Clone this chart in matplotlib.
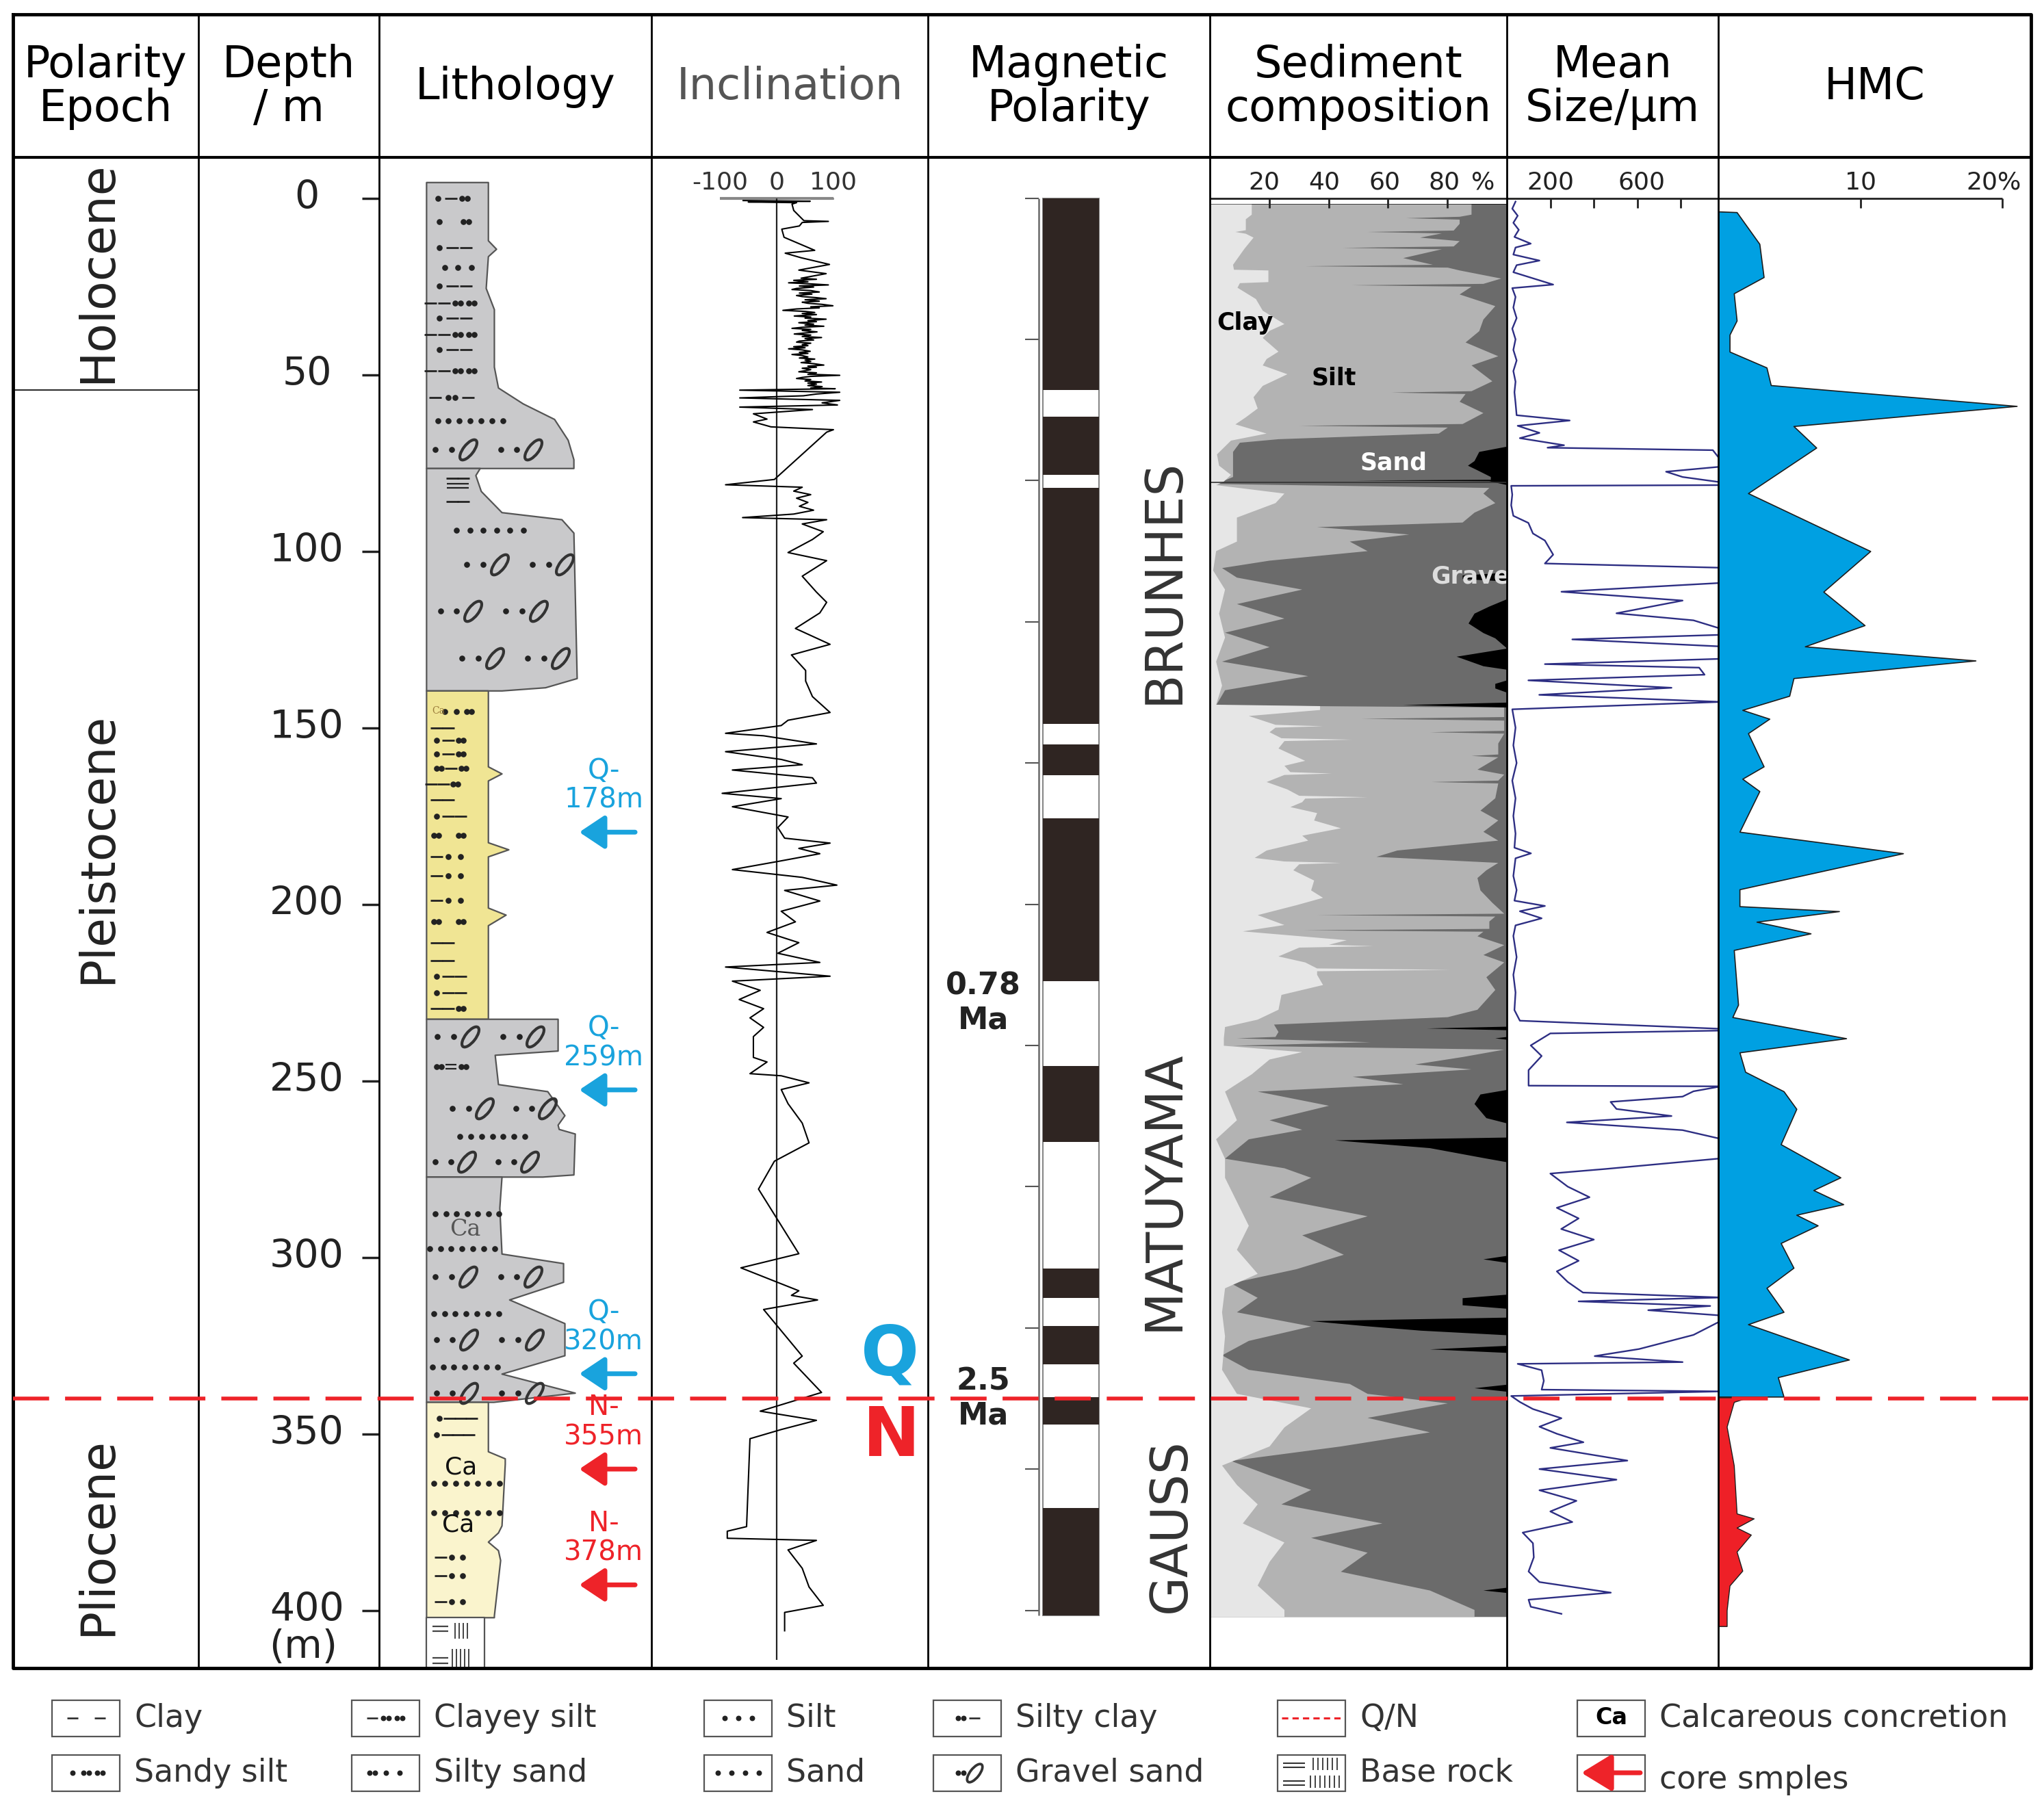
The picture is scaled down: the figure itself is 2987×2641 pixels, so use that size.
"""
Core log: lithology, inclination, polarity, sediment composition, mean size, HMC
"""
import numpy as np
import matplotlib
matplotlib.use("Agg")
import matplotlib.pyplot as plt
from matplotlib.path import Path
from matplotlib.transforms import Affine2D

W, H = 2987, 2641

# ---------------- data ----------------
EPOCHS = ["Holocene", "Pleistocene", "Pliocene"]
EPOCH_MID = [21, 184, 379]
HOLO_BASE = 54.4
QN_DEPTH = 340
DEPTH_TICKS = list(range(0, 401, 50))

# lithology beds: (depth, right edge in column units 0-100)
BED1 = [(-4.5, 40), (12, 40), (14.4, 43), (16.5, 40), (25.5, 39.2), (31.5, 42.2), (47.8, 42.2),
        (53.7, 43.7), (58.2, 52.8), (62.6, 64.3), (68.5, 69.3), (74, 71.4), (76.5, 71.4)]
BED2 = [(76.5, 37), (78.5, 35.4), (83, 37.4), (89, 45), (91, 67), (94.8, 71.4), (136, 72.6),
        (138.6, 61), (139.5, 45)]
BED3 = [(139.5, 40), (161, 40), (163, 45), (165, 40), (182.5, 40), (184.5, 47.5), (186.5, 40),
        (201, 40), (203, 46.5), (206, 40), (232.5, 40)]
BED4 = [(232.5, 65.6), (241.5, 65.6), (242.7, 42.5), (251, 43.7), (253, 61.8), (259.8, 68.1),
        (262.5, 65.6), (263.7, 66), (265, 71.9), (276.6, 71.4), (277.2, 60)]
BED5 = [(277.2, 45), (286, 44.2), (299, 45), (301.7, 67.6), (307, 67.6), (312, 47.8), (318.7, 68.1),
        (327.8, 68.1), (333, 45), (338.4, 71.9), (341, 42)]
BED6 = [(341, 40), (355, 40), (357, 46.2), (358.5, 46.2), (376, 45), (378, 43.7), (380.6, 40),
        (383, 43.7), (385.8, 44.5), (401.5, 42.2), (402, 42.2)]
BED7 = [(402, 38.7), (416.5, 38.7)]
BED_COLORS = ["#c9c9cb", "#c9c9cb", "#f0e594", "#c9c9cb", "#c9c9cb", "#faf4cd", "#ffffff"]
LITH_LEFT = 17.3

# pattern rows: (depth, x start, step, symbols)
LITH_ROWS = [
    (0.0, 21.5, 5, ".-:"), (6.6, 22, 5, ". :"), (14, 22, 5, ".--"), (19.6, 24, 5, "..."),
    (24.9, 22, 5, ".--"), (29.7, 18.8, 5, "--::"), (34.1, 22, 5, ".--"), (38.6, 18.8, 5, "--::"),
    (43, 22, 5, ".--"), (48.9, 18.8, 5, "--::"), (56.4, 20.6, 6, "-:-"), (63, 21.5, 4, "......."),
    (71.2, 20.6, 6, "..o ..o"),
    (79.3, 27, 4, "--"), (81.5, 27, 4, "=="), (86, 27, 4, "--"), (94, 28.5, 4.9, "......"),
    (103.8, 32.2, 6, "..o ..o"), (117, 22.5, 6, "..o ..o"), (130.4, 30.5, 6, "..o ..o"),
    (145.5, 24, 4.5, "..:"), (150, 21, 4.5, "--"), (153.5, 21, 4.5, ".-:"), (157.5, 21, 4.5, ".-:"),
    (161.5, 22, 4.5, ":-:"), (166, 19, 4.5, "--:"), (170.5, 21, 4.5, "--"), (175, 21, 4.5, ".--"),
    (180.5, 21, 4.5, ": :"), (186.5, 21, 4.5, "-.."), (192, 21, 4.5, "-.."), (199, 21, 4.5, "-.."),
    (205, 21, 4.5, ": :"), (211, 21, 4.5, "--"), (216, 21, 4.5, "--"), (220.5, 21, 4.5, ".--"),
    (225, 21, 4.5, ".--"), (229.5, 21, 4.5, "--:"),
    (237.5, 21.4, 6, "..o ..o"), (246, 22, 4.5, ":=:"), (257.8, 27, 5.8, "..o ..o"),
    (265.7, 29.6, 4, "......."), (272.9, 20.6, 5.8, "..o ..o"),
    (287.6, 20.6, 3.9, "......."), (297.5, 18.5, 4, "......."), (305.6, 20.6, 6, "..o ..o"),
    (315.9, 20, 4, "......."), (323.3, 21, 6, "..o ..o"), (331.2, 19.5, 4, "......."),
    (338.4, 21, 6, "..o ..o"),
    (345.6, 22, 4, ".---"), (350.2, 21, 4, ".---"), (364, 20.1, 4, "......."),
    (372.3, 20.1, 4, "......."), (385, 22.6, 4, "-.."), (390.3, 22.6, 4, "-.."), (397.5, 22.6, 4, "-.."),
]
CA_MARKS = [(145.3, 19.5, 10, "#9a7b3a", "serif"), (292.2, 26, 24, "#555555", "serif"),
            (359.4, 24, 26, "#111111", "sans"), (375.8, 23, 26, "#111111", "sans")]

SAMPLE_LABELS = ["Q-\n178m", "Q-\n259m", "Q-\n320m", "N-\n355m", "N-\n378m"]
SAMPLE_ARROW_DEPTH = [179.6, 252.6, 333, 360, 392.8]
SAMPLE_GROUP = ["Q", "Q", "Q", "N", "N"]

INCLINATION = [
    (0.7, -59), (0.9, 59), (1.1, -50), (1.3, 35), (1.7, 27), (3.5, 30), (5.9, 45), (6.4, 48),
    (6.6, 91), (6.9, 45), (7.9, 40), (8.8, 9), (11.1, 13), (14.8, 67), (15.6, 15), (16.9, 43),
    (18.8, 93), (20.4, 39), (21.4, 87),
    (22.7, 43), (23.0, 70), (23.3, 30), (23.7, 55), (24.0, 21), (24.3, 60), (24.6, 91), (24.9, 40),
    (25.2, 65), (25.6, 35), (25.9, 27), (26.2, 60), (26.6, 75), (26.9, 40), (27.2, 62), (27.6, 35),
    (27.9, 45), (28.2, 70), (28.5, 87), (28.8, 50), (29.2, 75), (29.5, 45), (29.8, 55), (30.1, 80),
    (30.5, 99), (30.8, 60), (31.1, 75), (31.4, 35), (31.8, 11), (32.1, 50), (32.4, 67), (32.7, 45),
    (33.0, 70), (33.4, 31), (33.7, 60), (34.0, 50), (34.3, 87), (34.7, 55), (35.0, 70), (35.3, 39),
    (35.7, 65), (36.0, 50), (36.3, 83), (36.6, 45), (36.9, 27), (37.2, 60), (37.5, 45), (37.9, 71),
    (38.2, 50), (38.5, 31), (38.8, 60), (39.2, 45), (39.5, 79), (39.8, 50), (40.2, 65), (40.5, 40),
    (40.8, 35), (41.1, 60), (41.5, 45), (41.8, 55), (42.1, 30), (42.4, 50), (42.7, 21), (43.0, 45),
    (43.4, 59), (43.7, 40), (44.0, 55), (44.3, 27), (44.6, 45), (45.0, 55), (45.3, 40), (45.6, 67),
    (45.9, 50), (46.3, 60), (46.6, 43), (46.9, 65), (47.3, 83), (47.6, 55), (47.9, 70), (48.2, 45),
    (48.6, 60), (48.9, 50), (49.2, 39), (49.5, 70), (49.9, 55), (50.2, 111), (50.5, 60), (50.8, 45),
    (51.1, 35), (51.4, 60), (51.8, 50), (52.1, 79), (52.4, 55), (52.7, 70), (53.1, 55), (53.4, 80),
    (53.8, 60), (54.0, 103), (54.4, -65), (55.0, 111), (55.5, 70), (56.0, 47), (56.6, -65),
    (57.3, 111), (58.0, 80), (58.6, 107), (59.2, -65), (59.9, 63), (61.1, -41), (62.6, -17),
    (63.4, -41), (64.8, -10), (65.6, 100), (66.3, 88), (79.7, -4), (81.2, -90), (81.9, 45),
    (83.0, 30), (84.0, 60), (85.0, 35), (86.2, 55), (87.3, 40), (88.4, 65), (89.5, 30), (90.5, -60),
    (91.1, 88), (92.3, 45), (94.5, 82), (96.7, 63), (100.4, 20), (102.7, 88), (107.1, 45),
    (111.6, 70), (114.5, 88), (117.5, 76), (121.9, 33), (126.4, 94), (129.4, 26), (133.8, 51),
    (136.8, 51), (141.2, 63), (145.7, 94), (147.9, 20),
    (149.4, 8), (151.6, -90), (152.3, -23), (154.6, 70), (156.8, -90), (159.0, 8), (160.5, 45),
    (162.0, -78), (164.2, 63), (165.7, 70), (168.6, -96), (170.1, 8), (172.4, -78), (175.3, 20),
    (178.3, 2), (181.3, 14), (182.7, 94), (184.2, 39), (185.7, 76), (187.9, 2), (190.2, -78),
    (192.4, 45), (194.6, 106), (196.1, 14), (199.1, 76), (202.0, 8), (205.0, 33), (208.0, -17),
    (210.9, 39), (213.9, 2), (216.5, 76), (217.8, -90), (220.4, 94), (221.8, -78), (224.4, -29),
    (227.0, -66), (229.6, -23), (232.2, -47), (234.9, -23), (237.5, -41), (243.4, -41),
    (244.7, -17), (248.0, -47), (248.6, 8), (250.6, 57), (252.5, 8), (256.5, 20), (262, 45),
    (267.6, 57), (272.8, -4), (280.7, -32), (299.0, 39), (303.0, -63), (309.5, 39), (310.8, 26),
    (312.1, 72), (314.8, -23), (328, 45), (330, 30), (338.3, 79), (343.6, -29), (346.2, 70),
    (348.8, 8), (351.4, -47), (376.3, -53), (377.6, -87), (379.6, -87), (380.2, 70), (382.9, 20),
    (388.1, 45), (393.4, 57), (398.6, 82), (400.6, 14), (405.8, 14),
]

# normal polarity (black) intervals, m
NORMAL_TOP = [0, 61.9, 82, 154.7, 175.7, 245.8, 303.2, 319.5, 339.6, 371]
NORMAL_BOT = [54.4, 78.4, 149, 163.5, 221.8, 267.3, 311.5, 330.3, 347.4, 401.5]
CHRONS = ["BRUNHES", "MATUYAMA", "GAUSS"]
CHRON_MID = [108.5, 281, 376]
AGE_LABELS = ["0.78\nMa", "2.5\nMa"]
AGE_DEPTH = [228, 340]

# sediment composition: cumulative % from the left edge
CLAY_EDGE = [
    (1.7, 14), (4.6, 14), (5.9, 12), (9.0, 12), (9.5, 8.5), (10.0, 12), (11.1, 14.6), (14.3, 11.5),
    (18.8, 7.7), (20.2, 8), (20.4, 19.6), (23.7, 19.6), (24.0, 10), (25.3, 9.2), (28.5, 15.4),
    (31.8, 17.7), (35.6, 25), (37.5, 20), (39.5, 17.7), (43.4, 23), (45.5, 19), (47.3, 17.7),
    (49.8, 26), (53.1, 17.7), (56.3, 14.6), (59.5, 16), (62, 12), (64, 8.5), (66.6, 19), (68.6, 7),
    (72.5, 2.3), (75.7, 3), (78.3, 7), (80.2, 4.6), (81.2, 2),
    (83.6, 25), (86.3, 22), (90.4, 9), (97.2, 9), (99.9, 2), (105.4, 1), (110.8, 5), (117.6, 3),
    (124.4, 5), (131.2, 2), (138.0, 4), (143.4, 2),
    (143.8, 37), (144.9, 37), (146.6, 13), (149.1, 22), (149.5, 38), (149.9, 22), (151.2, 20),
    (152.9, 24), (153.3, 48), (153.7, 25), (155.8, 23), (159.3, 32), (160.7, 25), (162.5, 27),
    (162.9, 41), (163.3, 25), (165.3, 19), (167.4, 26), (169.2, 30), (169.6, 53), (170.0, 32),
    (171, 31), (172.4, 27), (174.1, 36), (176.2, 35), (178.4, 44), (180.5, 31), (181.9, 33),
    (184.7, 19), (186.8, 15), (187.8, 25), (188.2, 44), (188.6, 30), (190.3, 28), (193.2, 35),
    (196, 34), (198.1, 38), (200.2, 29), (203, 16), (205.8, 25), (207.6, 11), (210.1, 46),
    (211.4, 40), (211.8, 55), (212.2, 30), (214.7, 23), (216.4, 32), (218.1, 36), (218.5, 81),
    (218.9, 36), (219.9, 36), (222.8, 38), (225.6, 24), (229.8, 23), (232.6, 16), (234.7, 5),
    (237.9, 4.6), (240, 4.6), (241.8, 31), (243.9, 20), (245.3, 18), (248.1, 14),
    (253.0, 5), (261.1, 9), (266.5, 2), (272.0, 5), (277.4, 5), (284.2, 9), (291.0, 13),
    (297.8, 9), (304.6, 16), (308.7, 5), (315.5, 4), (322.3, 5), (331.8, 4), (338.6, 9),
    (342.7, 34), (348.1, 25), (353.5, 20), (358.9, 4), (364.4, 9), (369.9, 16), (375.3, 11),
    (380.7, 25), (386.2, 20), (392.9, 16), (399.8, 25), (401.8, 25),
]
SILT_EDGE = [
    (1.7, 88), (4.6, 88), (5.2, 84), (5.6, 66), (6.0, 84), (7.2, 84), (9.1, 82), (9.5, 53),
    (9.9, 78), (11.1, 70.7), (12.1, 84), (13.6, 82), (14.0, 44.5), (14.4, 78), (16.9, 65),
    (18.8, 75), (19.2, 32), (19.6, 80), (20.4, 84), (22.7, 98), (24.2, 92), (24.6, 47.6), (25.0, 88),
    (27.2, 84), (30.5, 96), (34.3, 92), (37.6, 90.6), (40.8, 86), (44.7, 97), (47.3, 88), (51.8, 95),
    (54.6, 88), (55.0, 61), (55.4, 86), (57.6, 84), (60.8, 92), (63.9, 85), (64.4, 30), (64.9, 80),
    (66.6, 77), (68.2, 23), (69.2, 10), (71.8, 7.7), (75.7, 7.7), (78.9, 7.7), (80.9, 2),
    (82.0, 94), (83.6, 92), (86.3, 96), (89.0, 89), (91.8, 85), (93.1, 36), (95.2, 67), (97.2, 47),
    (99.9, 53), (102.6, 20), (104.7, 4), (107.4, 9), (110.8, 31), (114.9, 9), (119.0, 25),
    (123.0, 5), (127.1, 20), (131.2, 4), (135.3, 33), (139.3, 5), (143.6, 2),
    (144.2, 99), (146.9, 99), (147.4, 51), (147.9, 99), (150.8, 99), (151.2, 74), (151.6, 99),
    (154.4, 97), (157.5, 97), (157.9, 88), (158.3, 97), (161.8, 90), (163.2, 99), (164.9, 97),
    (165.3, 74.5), (165.7, 97), (169.9, 96), (173.4, 91), (176.2, 97), (179.4, 92), (181.9, 97),
    (184.7, 63), (186.5, 56), (188.2, 97), (190.3, 93), (192.5, 90), (196, 91), (199.5, 95),
    (202.6, 99), (203, 36), (203.4, 96), (204.8, 94), (206.9, 94), (207.3, 31.5), (207.7, 92),
    (209, 90), (211.5, 99), (214.3, 92), (216.4, 99), (220.6, 93), (224.2, 96), (229.8, 90),
    (231.9, 80), (234, 21.5), (236.1, 23), (237.5, 22), (237.9, 9), (238.3, 25), (239, 54),
    (240, 7.7), (241.1, 99), (243.2, 85), (245.3, 69), (246.7, 88), (248.8, 48), (250.9, 65),
    (253.0, 16), (257.0, 40), (261.1, 20), (263.8, 31), (266.5, 13), (272.0, 5), (274.7, 25),
    (277.4, 34), (282.9, 20), (288.3, 53), (293.7, 31), (299.2, 45), (303.3, 29), (307.3, 7),
    (311.4, 16), (315.5, 9), (319.5, 34), (323.6, 13), (327.7, 4), (331.8, 13), (335.8, 47),
    (338.6, 53), (341.3, 80), (345.4, 53), (349.5, 74), (353.5, 44), (357.6, 7), (361.7, 20),
    (365.8, 34), (369.9, 24), (375.3, 58), (379.4, 34), (383.6, 53), (389.0, 44), (394.3, 74),
    (399.8, 89), (401.8, 89),
]
SAND_EDGE = [
    (1.7, 100), (70.3, 100), (71.8, 90.6), (74.4, 89), (75.7, 86.8), (77, 90), (78.9, 94.5),
    (79.7, 94.5), (79.9, 49), (80.1, 94), (81.2, 100), (106, 100), (106.8, 85), (107.8, 85),
    (108.5, 100), (113.5, 100), (115.6, 94), (117.6, 89), (120.4, 87), (123.1, 92), (124.6, 96),
    (127.5, 100), (129.8, 83), (132.5, 92), (133.5, 100), (136.5, 100), (137.5, 96), (138.8, 96),
    (140, 100), (142.8, 100), (143.5, 65), (144.2, 100), (234.6, 100), (235.1, 73), (235.6, 100),
    (237.5, 100), (237.9, 96), (238.3, 100), (252.5, 100), (253.8, 91), (256.5, 89),
    (260.5, 93), (262, 100), (266, 100), (266.8, 42), (269, 74), (271.8, 92), (273, 100),
    (299.5, 100), (300.5, 92), (301.5, 100), (310.5, 100), (311.5, 85), (313.5, 85), (314.5, 100),
    (317, 100), (318, 34), (319.4, 52), (320.7, 71), (322, 100), (325, 100), (326, 74), (327, 100),
    (336, 100), (337, 89), (338, 100), (393.5, 100), (394.3, 92), (395, 100), (401.8, 100),
]
SED_COLORS = ["#e6e6e6", "#b3b3b3", "#6b6b6b", "#000000"]

MEAN_SIZE = [
    (1, 40), (3, 25), (5, 50), (7, 30), (9, 55), (11, 35), (12.9, 110), (14, 40), (16, 30),
    (17.7, 150), (19, 45), (21, 30), (24.5, 213), (25.5, 25), (28, 40), (31, 30), (34, 45), (37, 25),
    (40, 40), (43, 30), (46, 45), (49, 30), (52, 40), (55, 35), (58, 40), (61.5, 45), (63, 289),
    (64.5, 50), (66.5, 150), (68, 60), (70, 263), (70.7, 187), (71.4, 947), (74, 980), (76, 997),
    (77.5, 732), (79, 808), (80.5, 985), (81.3, 985), (81.5, 20), (84, 25), (87, 20), (90, 30),
    (92, 99), (95, 120), (97, 175), (101, 213), (103.5, 175), (104.7, 985), (107, 985), (109, 985),
    (111.5, 251), (114, 808), (117.6, 504), (119.6, 858), (122, 985), (123.7, 985), (125, 301),
    (127, 985), (130.5, 985), (132, 175), (133, 884), (135, 909), (136.6, 99), (138.7, 757),
    (140.7, 149), (142.7, 985), (144.8, 25), (150, 40), (155, 30), (160, 45), (165, 25), (170, 40),
    (175, 30), (180, 40), (184, 35), (185.6, 111), (187, 40), (192, 30), (196, 45), (199, 35),
    (200.5, 175), (202, 60), (204, 160), (206, 40), (209, 30), (215, 45), (220, 30), (225, 40),
    (230, 35), (233, 60), (235.3, 985), (235.8, 985), (236.6, 200), (240, 110), (243, 160),
    (247, 100), (251.4, 100), (251.6, 985), (253, 858), (254.5, 808), (256, 477), (258, 504),
    (260, 757), (261.8, 276), (264, 808), (266.5, 985), (272, 985), (275, 453), (276.3, 200),
    (280, 280), (283, 380), (286, 230), (289, 330), (292, 250), (295, 400), (298, 240), (301, 330),
    (304, 230), (307, 280), (310, 350), (311.4, 985), (312.5, 330), (313.8, 935), (315, 650),
    (316.5, 985), (318, 985), (322, 858), (326, 608), (328, 404), (329.7, 808), (330.2, 50),
    (332, 160), (335, 170), (337.5, 160), (338, 985), (339.3, 20), (341, 60), (343, 120),
    (345.6, 251), (348, 150), (350, 230), (352.4, 352), (354, 200), (357.6, 554), (360, 150),
    (363, 504), (366, 150), (369, 320), (372, 200), (375, 301), (378, 73), (381, 120), (385, 124),
    (389, 100), (392, 150), (395, 478), (397, 100), (399, 110), (401, 251),
]

HMC_Q = [
    (3.8, 0), (4, 1.3), (13, 2.9), (22.4, 3.2), (27, 1.1), (34.7, 1.3), (38.7, 0.8), (43.5, 0.8),
    (48, 3.4), (53, 3.7), (58.9, 21), (64.6, 5.3), (70.7, 6.9), (83.6, 2.1), (100, 10.7),
    (111.5, 7.4), (121, 10.3), (127, 6.1), (131, 18.1), (136, 5.3), (141, 5.0), (145, 1.7),
    (147.5, 3.6), (151.6, 2.1), (161, 3.2), (164.5, 1.7), (168, 2.9), (179.5, 1.5), (185.6, 13),
    (195.8, 1.5), (200.6, 1.5), (202, 8.5), (205, 2.7), (208.3, 6.5), (213, 1.1), (228.5, 1.4),
    (232, 1.0), (238, 9.0), (242, 1.5), (247.5, 1.9), (253, 4.6), (258, 5.5), (268, 4.4),
    (277.4, 8.6), (281, 6.7), (285, 8.8), (288, 5.5), (291, 7.0), (296, 4.4), (303, 5.3),
    (308.7, 3.4), (315.5, 4.6), (319, 2.1), (329, 9.2), (334, 4.2), (339.5, 4.6), (339.5, 0),
]
HMC_N = [
    (339.7, 0), (339.7, 2.1), (341, 1.1), (348, 0.6), (359, 1.1), (372.6, 1.3), (374, 2.5),
    (376.6, 1.3), (378.6, 2.3), (383.4, 1.3), (388.8, 1.7), (393, 0.8), (400, 0.6), (404.5, 0.6),
    (404.5, 0),
]

HEADERS = ["Polarity\nEpoch", "Depth\n/ m", "Lithology", "Inclination", "Magnetic\nPolarity",
           "Sediment\ncomposition", "Mean\nSize/\u03bcm", "HMC"]
LEGEND_ROW1 = ["Clay", "Clayey silt", "Silt", "Silty clay", "Q/N", "Calcareous concretion"]
LEGEND_ROW2 = ["Sandy silt", "Silty sand", "Sand", "Gravel sand", "Base rock", "core smples"]

# ---------------- layout (pixels of the output image) ----------------
COL_X = [19, 290, 554, 952, 1356, 1768, 2202, 2511, 2968]
TOP, HEAD_BOT, BOT = 21, 230, 2438
Y0, PX_PER_M = 289.5, 5.16
CYAN = "#19a3dd"
RED = "#ee2329"
INK = "#222222"

GRAVEL_MARK = Path.unit_circle().transformed(Affine2D().scale(0.42, 1.0).rotate_deg(-38))
DOUBLE_DASH = Path([(-1, 0.35), (1, 0.35), (-1, -0.35), (1, -0.35)],
                   [Path.MOVETO, Path.LINETO, Path.MOVETO, Path.LINETO])


def ypx(depth):
    return Y0 + PX_PER_M * depth


def depth_at(y):
    return (y - Y0) / PX_PER_M


def column_axes(fig, x0, x1, xlim):
    ax = fig.add_axes([x0 / W, 1 - BOT / H, (x1 - x0) / W, (BOT - HEAD_BOT) / H])
    ax.set_xlim(*xlim)
    ax.set_ylim(depth_at(BOT), depth_at(HEAD_BOT))
    ax.set_axis_off()
    return ax


def draw_symbols(ax, x0, y, step, pattern, color=INK, scale=1.0):
    dots, dashes, doubles, gravels = [], [], [], []
    for i, ch in enumerate(pattern):
        x = x0 + i * step
        if ch == ".":
            dots.append(x)
        elif ch == ":":
            dots += [x - step * 0.2, x + step * 0.2]
        elif ch == "-":
            dashes.append(x)
        elif ch == "=":
            doubles.append(x)
        elif ch == "o":
            gravels.append(x)
    ax.plot(dots, [y] * len(dots), ls="none", marker="o", ms=5.2 * scale, color=color)
    ax.plot(dashes, [y] * len(dashes), ls="none", marker="_", ms=13 * scale, mew=2 * scale, color=color)
    ax.plot(doubles, [y] * len(doubles), ls="none", marker=DOUBLE_DASH, ms=12 * scale,
            mew=1.6 * scale, color=color)
    ax.plot(gravels, [y] * len(gravels), ls="none", marker=GRAVEL_MARK, ms=22 * scale,
            mfc="none", mec="#333333", mew=3 * scale)


def top_scale(ax, ticks, labels, label_x, line_x, tick_len=2.8, size=26, color=INK):
    ax.hlines(0, line_x[0], line_x[1], color=color, lw=2)
    ax.vlines(ticks, 0, tick_len, color=color, lw=2)
    for x, lab in zip(label_x, labels):
        ax.text(x, -1.2, lab, ha="center", va="bottom", fontsize=size, color=color)


def main():
    fig = plt.figure(figsize=(W / 100, H / 100), dpi=100)

    # epoch column
    ax = column_axes(fig, COL_X[0], COL_X[1], (0, 1))
    for name, mid in zip(EPOCHS, EPOCH_MID):
        ax.text(0.458, mid, name, rotation=90, ha="center", va="center", fontsize=50, color=INK)

    # depth column
    ax = column_axes(fig, COL_X[1], COL_X[2], (0, 1))
    ax.hlines(DEPTH_TICKS, 0.905, 1.0, color=INK, lw=2.5)
    for d in DEPTH_TICKS:
        ax.text(0.6, d, str(d), ha="center", va="center", fontsize=41, color=INK)
    ax.text(0.58, 410.5, "(m)", ha="center", va="center", fontsize=41, color=INK)

    # lithology
    ax = column_axes(fig, COL_X[2], COL_X[3], (0, 100))
    for bed, col in zip([BED1, BED2, BED3, BED4, BED5, BED6, BED7], BED_COLORS):
        d, r = np.array(bed).T
        ax.fill_betweenx(d, LITH_LEFT, r, facecolor=col, edgecolor="#555555", lw=1.6)
    for d, x0, step, pat in LITH_ROWS:
        draw_symbols(ax, x0, d, step, pat)
    for d, x, size, col, fam in CA_MARKS:
        ax.text(x, d, "Ca", fontsize=size, color=col, ha="left", va="center",
                family="DejaVu Serif" if fam == "serif" else "DejaVu Sans")
    # base rock marks
    ax.hlines([404.5, 406, 413.5, 415], 19.5, 25.5, color="#444444", lw=1.6)
    ax.vlines([28, 29.5, 31, 32.5], 403.5, 408, color="#444444", lw=1.4)
    ax.vlines([27, 28.5, 30, 31.5, 33], 411, 416, color="#444444", lw=1.4)
    for lab, d, grp in zip(SAMPLE_LABELS, SAMPLE_ARROW_DEPTH, SAMPLE_GROUP):
        c = CYAN if grp == "Q" else RED
        ax.annotate("", xy=(73.5, d), xytext=(94, d),
                    arrowprops=dict(arrowstyle="-|>,head_length=0.75,head_width=0.5", color=c,
                                    lw=5, mutation_scale=30, shrinkA=0, shrinkB=0))
        ax.text(82.5, d - 13.2, lab, ha="center", va="center", fontsize=29, color=c,
                linespacing=1.1)

    # inclination
    ax = column_axes(fig, COL_X[3], COL_X[4], (-220.5, 266.3))
    top_scale(ax, [], ["-100", "0", "100"], [-100, 0, 100], (-100, 100), size=26, color="#333333")
    ax.hlines(0, -100, 100, color="#888888", lw=3)
    ax.vlines(0, 0, 414, color=INK, lw=1.6)
    inc_d, inc_v = np.array(INCLINATION).T
    ax.plot(inc_v, inc_d, color="black", lw=1.5)
    ax.text(200, 328, "Q", ha="center", va="center", fontsize=72, fontweight="bold", color=CYAN)
    ax.text(202, 351, "N", ha="center", va="center", fontsize=72, fontweight="bold", color=RED)

    # magnetic polarity
    ax = column_axes(fig, COL_X[4], COL_X[5], (0, 1))
    ax.vlines(0.393, 0, 401.5, color="#777777", lw=2)
    ax.hlines(np.arange(0, 401, 40), 0.345, 0.393, color="#555555", lw=1.5)
    ax.bar(0.5075, 401.5, bottom=0, width=0.199, color="white", edgecolor="#888888", lw=1.5)
    heights = np.array(NORMAL_BOT) - np.array(NORMAL_TOP)
    ax.bar(0.5075, heights, bottom=NORMAL_TOP, width=0.199, color="#2f2522", lw=0)
    for name, mid in zip(CHRONS, CHRON_MID):
        x = 0.862 if name == "GAUSS" else 0.837
        ax.text(x, mid, name, rotation=90, ha="center", va="center", fontsize=53, color="#333333")
    for lab, d in zip(AGE_LABELS, AGE_DEPTH):
        ax.text(0.197, d, lab, ha="center", va="center", fontsize=32, fontweight="bold",
                color=INK, linespacing=1.2)

    # sediment composition
    ax = column_axes(fig, COL_X[5], COL_X[6], (0, 100))
    sand_d, sand_e = np.array(SAND_EDGE).T
    silt_d, silt_e = np.array(SILT_EDGE).T
    clay_d, clay_e = np.array(CLAY_EDGE).T
    ax.fill_betweenx([sand_d[0], sand_d[-1]], 0, 100, color=SED_COLORS[3], lw=0)
    ax.fill_betweenx(sand_d, 0, sand_e, color=SED_COLORS[2], lw=0)
    ax.fill_betweenx(silt_d, 0, silt_e, color=SED_COLORS[1], lw=0)
    ax.fill_betweenx(clay_d, 0, clay_e, color=SED_COLORS[0], lw=0)
    ax.hlines(80.6, 0, 100, color="#333333", lw=1.2)
    top_scale(ax, [20, 40, 60, 80], ["20", "40", "60", "80", "%"], [18.4, 38.5, 58.8, 79, 92],
              (0, 100))
    ax.text(11.8, 35.4, "Clay", ha="center", va="center", fontsize=25, fontweight="bold", color="black")
    ax.text(41.7, 50.9, "Silt", ha="center", va="center", fontsize=25, fontweight="bold", color="black")
    ax.text(61.8, 75, "Sand", ha="center", va="center", fontsize=25, fontweight="bold", color="white")
    ax.text(74.5, 107.1, "Gravel", ha="left", va="center", fontsize=25, fontweight="bold",
            color="#dddddd", clip_on=True)

    # mean size
    ax = column_axes(fig, COL_X[6], COL_X[7], (0, 972))
    top_scale(ax, [200, 400, 600, 800], ["200", "600"], [200, 620], (0, 972))
    ms_d, ms_v = np.array(MEAN_SIZE).T
    ax.plot(ms_v, ms_d, color="#2d2e83", lw=1.7)

    # HMC
    ax = column_axes(fig, COL_X[7], COL_X[8], (0, 22))
    top_scale(ax, [10, 20], ["10", "20%"], [10, 19.4], (0, 20))
    q_d, q_v = np.array(HMC_Q).T
    n_d, n_v = np.array(HMC_N).T
    ax.fill_betweenx(q_d, 0, q_v, facecolor="#00a0e2", edgecolor="#1d1d1d", lw=1.2)
    ax.fill_betweenx(n_d, 0, n_v, facecolor="#ee2027", edgecolor="#1d1d1d", lw=1.0)

    # frame: table lines, headers, Q/N line, legend
    fr = fig.add_axes([0, 0, 1, 1])
    fr.set_xlim(0, W)
    fr.set_ylim(H, 0)
    fr.set_axis_off()
    fr.set_zorder(5)
    fr.patch.set_alpha(0)
    fr.plot([COL_X[0], COL_X[-1], COL_X[-1], COL_X[0], COL_X[0]], [TOP, TOP, BOT, BOT, TOP],
            color="black", lw=3.5)
    fr.hlines(HEAD_BOT, COL_X[0], COL_X[-1], color="black", lw=3)
    fr.vlines(COL_X[1:-1], TOP, BOT, color="black", lw=2)
    fr.hlines(ypx(HOLO_BASE), COL_X[0], COL_X[1], color="black", lw=1.2)
    for i, text in enumerate(HEADERS):
        cx = (COL_X[i] + COL_X[i + 1]) / 2
        fr.text(cx, 127, text, ha="center", va="center", fontsize=46, linespacing=1.05,
                color="#555555" if text == "Inclination" else "black")
    fr.hlines(ypx(QN_DEPTH), COL_X[0], COL_X[-1], color=RED, lw=4, linestyles=(0, (9.5, 4.2)))

    box_x = [76, 514, 1029, 1364, 1867, 2305]
    syms1 = ["- -", "-::", "...", ":-", "QN", "CA"]
    syms2 = [".::", ":..", "....", ":o", "BR", "AR"]
    for row_y, labels, syms in [(2511, LEGEND_ROW1, syms1), (2591, LEGEND_ROW2, syms2)]:
        for bx, lab, sym in zip(box_x, labels, syms):
            fr.add_patch(plt.Rectangle((bx, row_y - 26), 99, 53, facecolor="white",
                                       edgecolor="#555555", lw=1.6))
            cx = bx + 49.5
            if sym == "QN":
                fr.hlines(row_y, bx + 6, bx + 93, color=RED, lw=2.2, linestyles=(0, (3, 2)))
            elif sym == "CA":
                fr.text(cx, row_y, "Ca", ha="center", va="center", fontsize=24, fontweight="bold")
            elif sym == "BR":
                fr.hlines([row_y - 14, row_y - 8, row_y + 12, row_y + 18], bx + 8, bx + 40,
                          color="#333333", lw=1.5)
                fr.vlines(np.arange(bx + 52, bx + 92, 7), row_y - 22, row_y - 4, color="#333333", lw=1.3)
                fr.vlines(np.arange(bx + 48, bx + 92, 7), row_y + 4, row_y + 22, color="#333333", lw=1.3)
            elif sym == "AR":
                fr.annotate("", xy=(bx + 6, row_y), xytext=(bx + 92, row_y),
                            arrowprops=dict(arrowstyle="-|>,head_length=0.9,head_width=0.55",
                                            color=RED, lw=5, mutation_scale=30, shrinkA=0, shrinkB=0))
            else:
                step = 20
                draw_symbols(fr, cx - (len(sym) - 1) * step / 2, row_y, step, sym, scale=0.9)
            ty = row_y + 10 if sym == "AR" else row_y
            fr.text(bx + 120, ty, lab, ha="left", va="center", fontsize=33, color="#333333")

    fig.savefig("out.png", dpi=100)
    plt.close(fig)


if __name__ == "__main__":
    main()
